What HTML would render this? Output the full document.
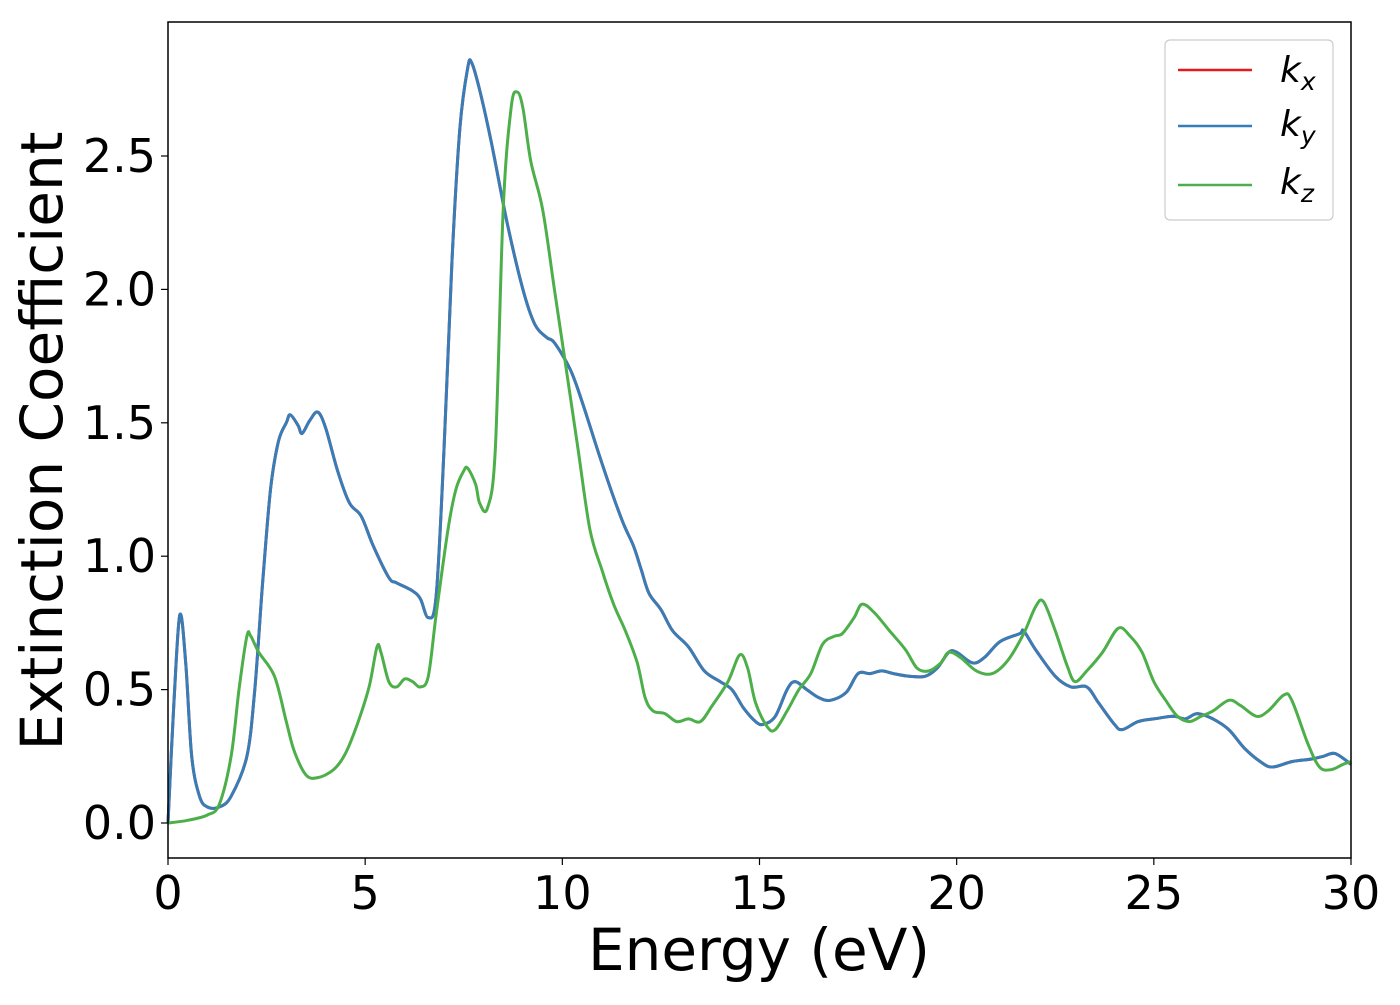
<!DOCTYPE html>
<html><head><meta charset="utf-8"><style>
body{margin:0;background:#fff}
svg text{font-family:"DejaVu Sans","Liberation Sans",sans-serif}
</style></head><body>
<svg id="chart" width="1400" height="1000" xmlns="http://www.w3.org/2000/svg">
<rect x="0" y="0" width="1400" height="1000" fill="#fff"/>
<g id="lines"></g>
<rect x="168" y="22" width="1183" height="836" fill="none" stroke="#000" stroke-width="1.5"/>
<g id="xticks"></g><g id="yticks"></g>
<text x="759" y="970" font-size="58" text-anchor="middle">Energy (eV)</text>
<text transform="translate(62,441) rotate(-90)" font-size="58" text-anchor="middle">Extinction Coefficient</text>
<g>
<rect x="1165" y="40" width="168" height="180" rx="5" fill="#fff" stroke="#ccc" stroke-width="1.2"/>
<line x1="1178" y1="70" x2="1252" y2="70" stroke="#e41a1c" stroke-width="2.5"/>
<text x="1280" y="82" font-size="36" font-style="italic">k<tspan font-size="25" dy="8">x</tspan></text>
<line x1="1178" y1="126" x2="1252" y2="126" stroke="#377eb8" stroke-width="2.5"/>
<text x="1280" y="136" font-size="36" font-style="italic">k<tspan font-size="25" dy="8">y</tspan></text>
<line x1="1178" y1="185" x2="1252" y2="185" stroke="#4daf4a" stroke-width="2.5"/>
<text x="1280" y="194" font-size="36" font-style="italic">k<tspan font-size="25" dy="8">z</tspan></text>
</g>
</svg>
<script>
const xTicks=[0,5,10,15,20,25,30];
const yTicks=[0.0,0.5,1.0,1.5,2.0,2.5];
const blueX=[0,0.15,0.3,0.45,0.6,0.8,1.0,1.3,1.6,2.0,2.2,2.4,2.6,2.8,3.0,3.1,3.3,3.4,3.6,3.8,4.0,4.3,4.6,4.9,5.2,5.6,5.8,6.2,6.4,6.6,6.8,7.0,7.2,7.4,7.6,7.7,7.9,8.2,8.6,9.0,9.3,9.6,9.8,10.2,10.5,11.0,11.5,11.8,12.0,12.2,12.5,12.8,13.2,13.6,14.0,14.3,14.6,14.9,15.1,15.4,15.7,15.9,16.2,16.5,16.8,17.2,17.5,17.8,18.1,18.4,18.8,19.2,19.5,19.8,20.0,20.4,20.7,21.1,21.6,21.7,22.0,22.5,22.9,23.3,23.6,24.0,24.2,24.6,25.0,25.5,25.8,26.1,26.5,26.9,27.3,27.7,28.0,28.5,29.0,29.3,29.6,30];
const blueY=[0,0.45,0.78,0.6,0.25,0.1,0.06,0.06,0.1,0.25,0.5,0.9,1.25,1.43,1.5,1.53,1.49,1.46,1.51,1.54,1.48,1.32,1.2,1.15,1.04,0.92,0.9,0.87,0.84,0.77,0.85,1.4,2.1,2.6,2.83,2.85,2.75,2.55,2.25,2.0,1.87,1.82,1.8,1.7,1.58,1.35,1.14,1.04,0.95,0.86,0.8,0.72,0.66,0.57,0.53,0.5,0.43,0.38,0.37,0.4,0.5,0.53,0.5,0.47,0.46,0.49,0.56,0.56,0.57,0.56,0.55,0.55,0.58,0.64,0.64,0.6,0.62,0.68,0.71,0.72,0.65,0.55,0.51,0.51,0.45,0.37,0.35,0.38,0.39,0.4,0.39,0.41,0.39,0.35,0.28,0.23,0.21,0.23,0.24,0.25,0.26,0.22];
const greenX=[0,0.5,1.0,1.3,1.6,1.8,2.0,2.1,2.3,2.7,3.0,3.2,3.5,3.8,4.2,4.5,4.8,5.1,5.3,5.4,5.6,5.8,6.0,6.2,6.4,6.6,6.8,7.1,7.3,7.5,7.6,7.8,7.9,8.1,8.3,8.5,8.7,8.85,9.0,9.2,9.5,9.8,10.1,10.4,10.7,11.0,11.3,11.6,11.9,12.1,12.3,12.6,12.9,13.2,13.5,13.8,14.2,14.5,14.7,14.9,15.2,15.4,15.7,16.0,16.3,16.6,16.9,17.1,17.4,17.6,17.9,18.3,18.7,19.0,19.3,19.6,19.8,20.1,20.5,20.9,21.3,21.7,22.0,22.2,22.5,22.8,23.0,23.3,23.7,24.1,24.4,24.7,25.0,25.3,25.6,25.9,26.2,26.5,26.9,27.2,27.6,27.9,28.3,28.5,28.9,29.2,29.5,29.8,30];
const greenY=[0,0.01,0.03,0.07,0.25,0.5,0.7,0.7,0.64,0.55,0.38,0.27,0.18,0.17,0.2,0.26,0.37,0.51,0.66,0.64,0.53,0.51,0.54,0.53,0.51,0.55,0.78,1.1,1.25,1.32,1.33,1.27,1.2,1.18,1.4,2.3,2.68,2.74,2.68,2.48,2.3,2.0,1.7,1.4,1.1,0.95,0.82,0.72,0.6,0.47,0.42,0.41,0.38,0.39,0.38,0.44,0.53,0.63,0.58,0.45,0.36,0.35,0.42,0.5,0.56,0.67,0.7,0.71,0.77,0.82,0.79,0.72,0.65,0.58,0.57,0.6,0.64,0.62,0.57,0.56,0.61,0.71,0.81,0.83,0.72,0.59,0.53,0.57,0.64,0.73,0.7,0.64,0.53,0.46,0.4,0.38,0.4,0.42,0.46,0.44,0.4,0.42,0.48,0.46,0.3,0.21,0.2,0.22,0.23];
const NS="http://www.w3.org/2000/svg";
const X0=168,X1=1351,Y0=823,YS=266.8;
const sx=v=>X0+(v-0)/30*(X1-X0);
const sy=v=>Y0-v*YS;
function pathD(xs,ys){
  const p=xs.map((x,i)=>[sx(x),sy(ys[i])]);
  let d="M"+p[0][0].toFixed(1)+","+p[0][1].toFixed(1);
  for(let i=0;i<p.length-1;i++){
    const a=p[Math.max(0,i-1)],b=p[i],c=p[i+1],e=p[Math.min(p.length-1,i+2)];
    const c1=[b[0]+(c[0]-a[0])/6,b[1]+(c[1]-a[1])/6],c2=[c[0]-(e[0]-b[0])/6,c[1]-(e[1]-b[1])/6];
    d+=`C${c1[0].toFixed(1)},${c1[1].toFixed(1)} ${c2[0].toFixed(1)},${c2[1].toFixed(1)} ${c[0].toFixed(1)},${c[1].toFixed(1)}`;
  }
  return d;
}
const lines=document.getElementById('lines');
function addLine(name,xs,ys,col){
  const el=document.createElementNS(NS,'path');
  
  
  el.setAttribute('d',pathD(xs,ys));
  el.setAttribute('fill','none');el.setAttribute('stroke',col);el.setAttribute('stroke-width','3');
  lines.appendChild(el);
}
addLine('kx-line',blueX,blueY,'#e41a1c');
addLine('ky-line',blueX,blueY,'#377eb8');
addLine('kz-line',greenX,greenY,'#4daf4a');
const xg=document.getElementById('xticks');
xTicks.forEach(t=>{
  const l=document.createElementNS(NS,'line');
  
  
  l.setAttribute('x1',sx(t));l.setAttribute('x2',sx(t));l.setAttribute('y1',858);l.setAttribute('y2',865);l.setAttribute('stroke','#000');l.setAttribute('stroke-width','1.2');
  xg.appendChild(l);
  const tx=document.createElementNS(NS,'text');
  
  
  tx.setAttribute('x',sx(t));tx.setAttribute('y',909);tx.setAttribute('font-size','46');tx.setAttribute('text-anchor','middle');
  tx.textContent=t;xg.appendChild(tx);
});
const yg=document.getElementById('yticks');
yTicks.forEach(t=>{
  const l=document.createElementNS(NS,'line');
  
  
  l.setAttribute('x1',161);l.setAttribute('x2',168);l.setAttribute('y1',sy(t));l.setAttribute('y2',sy(t));l.setAttribute('stroke','#000');l.setAttribute('stroke-width','1.2');
  yg.appendChild(l);
  const tx=document.createElementNS(NS,'text');
  
  
  tx.setAttribute('x',156);tx.setAttribute('y',sy(t)+16);tx.setAttribute('font-size','46');tx.setAttribute('text-anchor','end');
  tx.textContent=t.toFixed(1);yg.appendChild(tx);
});
</script>
</body></html>
